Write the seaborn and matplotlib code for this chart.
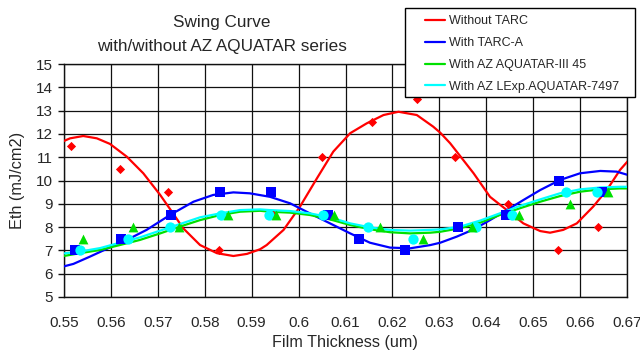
import matplotlib
matplotlib.use("Agg")
import matplotlib.pyplot as plt
import seaborn as sns
from matplotlib.patches import Rectangle

# measured points (film thickness in um, Eth in mJ/cm2)
x_red = [0.5514, 0.5619, 0.5721, 0.5831, 0.5945, 0.6049, 0.6157, 0.6252, 0.6334, 0.6447, 0.6552, 0.6639]
y_red = [11.5, 10.5, 9.5, 7.0, 8.5, 11.0, 12.5, 13.5, 11.0, 9.0, 7.0, 8.0]
x_blue = [0.5523, 0.5621, 0.5727, 0.5833, 0.5941, 0.6062, 0.6128, 0.6226, 0.6339, 0.6442, 0.6556, 0.6647]
y_blue = [7.0, 7.5, 8.5, 9.5, 9.5, 8.5, 7.5, 7.0, 8.0, 8.5, 10.0, 9.5]
x_green = [0.5541, 0.5648, 0.5746, 0.5849, 0.5951, 0.6076, 0.6173, 0.6265, 0.6369, 0.6469, 0.6578, 0.6659]
y_green = [7.5, 8.0, 8.0, 8.5, 8.5, 8.5, 8.0, 7.5, 8.0, 8.5, 9.0, 9.5]
x_cyan = [0.5534, 0.5636, 0.5726, 0.5835, 0.5936, 0.6051, 0.6147, 0.6243, 0.6378, 0.6454, 0.6570, 0.6637]
y_cyan = [7.0, 7.5, 8.0, 8.5, 8.5, 8.5, 8.0, 7.5, 8.0, 8.5, 9.5, 9.5]

# fitted curves
cx_red = [0.5491, 0.5513, 0.5541, 0.5570, 0.5598, 0.5634, 0.5669, 0.5705, 0.5730, 0.5754, 0.5790,
          0.5826, 0.5861, 0.5890, 0.5918, 0.5932, 0.5968, 0.6003, 0.6039, 0.6074, 0.6110, 0.6145,
          0.6181, 0.6213, 0.6252, 0.6287, 0.6302, 0.6323, 0.6337, 0.6373, 0.6408, 0.6444, 0.6479,
          0.6515, 0.6536, 0.6564, 0.6593, 0.6628, 0.6657, 0.6685, 0.6710]
cy_red = [11.62, 11.81, 11.91, 11.81, 11.57, 11.02, 10.31, 9.38, 8.66, 7.95, 7.23,
          6.88, 6.76, 6.85, 7.05, 7.23, 7.88, 8.88, 10.09, 11.24, 12.03, 12.45,
          12.81, 12.95, 12.81, 12.31, 12.05, 11.60, 11.24, 10.31, 9.30, 8.73, 8.16,
          7.83, 7.76, 7.88, 8.16, 8.88, 9.59, 10.45, 11.02]
cx_blue = [0.5491, 0.5520, 0.5555, 0.5598, 0.5634, 0.5676, 0.5726, 0.5776, 0.5818, 0.5861, 0.5896,
           0.5939, 0.5982, 0.6024, 0.6067, 0.6110, 0.6152, 0.6195, 0.6238, 0.6281, 0.6302, 0.6337,
           0.6373, 0.6408, 0.6444, 0.6479, 0.6515, 0.6557, 0.6600, 0.6643, 0.6678, 0.6710]
cy_blue = [6.27, 6.42, 6.73, 7.13, 7.45, 7.88, 8.52, 9.09, 9.38, 9.49, 9.45,
           9.30, 9.02, 8.59, 8.16, 7.73, 7.33, 7.12, 7.09, 7.23, 7.33, 7.59,
           7.90, 8.30, 8.73, 9.16, 9.59, 10.02, 10.31, 10.41, 10.38, 10.19]
cx_gc = [0.5491, 0.5534, 0.5577, 0.5619, 0.5662, 0.5705, 0.5747, 0.5790, 0.5833, 0.5875, 0.5918,
         0.5939, 0.5982, 0.6024, 0.6067, 0.6110, 0.6152, 0.6195, 0.6238, 0.6281, 0.6302, 0.6344,
         0.6387, 0.6429, 0.6472, 0.6515, 0.6557, 0.6600, 0.6643, 0.6685, 0.6710]
cy_green = [6.73, 6.88, 7.02, 7.23, 7.45, 7.73, 8.02, 8.30, 8.52, 8.66, 8.70,
            8.66, 8.62, 8.52, 8.33, 8.09, 7.91, 7.78, 7.73, 7.76, 7.80, 7.95,
            8.19, 8.52, 8.81, 9.09, 9.33, 9.52, 9.62, 9.66, 9.66]
cy_cyan = [6.85, 6.95, 7.10, 7.33, 7.56, 7.85, 8.13, 8.42, 8.59, 8.73, 8.76,
           8.73, 8.69, 8.59, 8.42, 8.16, 7.99, 7.88, 7.85, 7.88, 7.90, 8.02,
           8.28, 8.59, 8.91, 9.19, 9.45, 9.62, 9.70, 9.73, 9.73]

labels = ["Without TARC", "With TARC-A", "With AZ AQUATAR-III 45", "With AZ LExp.AQUATAR-7497"]
colors = ["#ff0000", "#0000ff", "#00e000", "#00ffff"]
x_ticks = [0.55, 0.56, 0.57, 0.58, 0.59, 0.60, 0.61, 0.62, 0.63, 0.64, 0.65, 0.66, 0.67]
x_ticklabels = ["0.55", "0.56", "0.57", "0.58", "0.59", "0.6", "0.61", "0.62", "0.63",
                "0.64", "0.65", "0.66", "0.67"]

sns.set_style("white")
plt.rcParams["font.family"] = ["Liberation Sans", "DejaVu Sans"]

fig = plt.figure(figsize=(6.4, 3.54), dpi=100)
ax = fig.add_axes([64 / 640, 1 - 297 / 354, 563 / 640, 233 / 354])

curves = [(cx_red, cy_red), (cx_blue, cy_blue), (cx_gc, cy_green), (cx_gc, cy_cyan)]
for (cx, cy), c, lab in zip(curves, colors, labels):
    sns.lineplot(x=cx, y=cy, color=c, lw=1.6, label=lab, sort=False, estimator=None, ax=ax, zorder=3)

sns.scatterplot(x=x_red, y=y_red, color=colors[0], marker="D", s=22, linewidth=0, ax=ax, zorder=4)
sns.scatterplot(x=x_blue, y=y_blue, color=colors[1], marker="s", s=45, linewidth=0, ax=ax, zorder=4)
sns.scatterplot(x=x_cyan, y=y_cyan, color=colors[3], marker="o", s=55, linewidth=0, ax=ax, zorder=4)
sns.scatterplot(x=x_green, y=y_green, color=colors[2], marker="^", s=50, linewidth=0, ax=ax, zorder=4)

handles, labs = ax.get_legend_handles_labels()
ax.get_legend().remove()

ax.set_xlim(0.55, 0.67)
ax.set_ylim(5, 15)
ax.set_xticks(x_ticks)
ax.set_xticklabels(x_ticklabels)
ax.set_yticks(range(5, 16))
ax.grid(True, color="#111111", lw=0.9)
ax.set_axisbelow(True)
for sp in ax.spines.values():
    sp.set_color("#111111")
    sp.set_linewidth(1.0)
ax.tick_params(axis="y", left=True, length=4, width=1, color="#111111", labelsize=11, pad=4)
ax.tick_params(axis="x", bottom=False, labelsize=11, pad=10)

fig.text(222 / 640, 1 - 23 / 354, "Swing Curve", ha="center", va="center", fontsize=12.3)
fig.text(222 / 640, 1 - 46 / 354, "with/without AZ AQUATAR series", ha="center", va="center", fontsize=12.3)
fig.text(18 / 640, 1 - 180 / 354, "Eth (mJ/cm2)", rotation=90, ha="center", va="center", fontsize=11.7)
fig.text(345 / 640, 1 - 343 / 354, "Film Thickness (um)", ha="center", va="center", fontsize=11.6)

# legend box
box = Rectangle((405 / 640, 1 - 97 / 354), 230 / 640, 89 / 354, transform=fig.transFigure,
                facecolor="white", edgecolor="black", lw=1.0, zorder=4)
fig.patches.append(box)
fig.legend(handles, labs, loc="upper left", bbox_to_anchor=(422 / 640, 1 - 13 / 354),
           frameon=False, fontsize=9, handlelength=1.6, handletextpad=0.35,
           labelspacing=0.78, borderaxespad=0, borderpad=0.2)

fig.savefig("out.png", dpi=100)
